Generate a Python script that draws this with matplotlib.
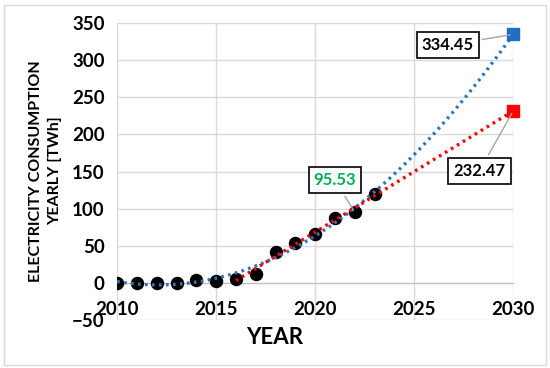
import numpy as np
import matplotlib.pyplot as plt
from matplotlib.patches import Rectangle

# data
years = [2010, 2011, 2012, 2013, 2014, 2015, 2016, 2017, 2018, 2019, 2020, 2021, 2022, 2023]
consumption = [0.2, 0.1, 0.0, 0.5, 4.5, 3.0, 5.5, 12.0, 42.0, 54.0, 66.0, 88.0, 95.53, 120.0]
forecast_year = 2030
blue_label = "334.45"
red_label = "232.47"
red_start = 2016

plt.rcParams['font.family'] = ['Lato', 'DejaVu Sans']

fig = plt.figure(figsize=(5.5, 3.68), dpi=100)
ax = fig.add_axes([0.213, 0.130, 0.72, 0.8075])

x = np.array(years, dtype=float)
y = np.array(consumption)

# polynomial trend (all years) and linear trend (from 2016)
blue_fit = np.polyfit(x - 2010, y, 2)
mask = x >= red_start
red_fit = np.polyfit(x[mask] - 2010, y[mask], 1)

xb = np.linspace(2010, forecast_year, 200)
xr = np.linspace(red_start, forecast_year, 200)
yb = np.polyval(blue_fit, xb - 2010)
yr = np.polyval(red_fit, xr - 2010)
blue_end = np.polyval(blue_fit, forecast_year - 2010)
red_end = np.polyval(red_fit, forecast_year - 2010)

ax.scatter(x, y, s=75, color='black', zorder=3)
ax.plot(xb, yb, color='#2E75B6', lw=2.4, ls=(0, (0.8, 1.3)), zorder=4)
ax.plot(xr, yr, color='#FF0000', lw=2.4, ls=(0, (0.8, 1.3)), zorder=4)
ax.scatter([forecast_year], [blue_end], marker='s', s=75, color='#1F6FC5', zorder=5, clip_on=False)
ax.scatter([forecast_year], [red_end], marker='s', s=75, color='#FF0000', zorder=5, clip_on=False)

ax.set_xlim(2010, 2030)
ax.set_ylim(-50, 350)
ax.set_xticks(range(2010, 2031, 5))
ax.set_yticks(range(-50, 351, 50))
ax.set_yticklabels(['\u221250'] + [str(v) for v in range(0, 351, 50)])
ax.grid(True, color='#D9D9D9', lw=1)
ax.set_axisbelow(True)
for s in ['top', 'right', 'left']:
    ax.spines[s].set_visible(False)
ax.spines['bottom'].set_position(('data', 0))
ax.spines['bottom'].set_color('#BFBFBF')
ax.tick_params(length=0, labelsize=13.5)
ax.tick_params(axis='x', pad=13)
ax.tick_params(axis='y', pad=9)
for lab in ax.get_xticklabels() + ax.get_yticklabels():
    lab.set_fontweight('bold')

fig.text(0.5, 0.082, 'YEAR', ha='center', va='center', fontsize=16, fontweight='bold')
fig.text(0.082, 0.535, 'ELECTRICITY CONSUMPTION\nYEARLY [TWh]', rotation=90,
         ha='center', va='center', fontsize=11.5, fontweight='bold', linespacing=1.45)

box = dict(boxstyle='square,pad=0.3', fc='white', ec='black', lw=1.2)
arrow = dict(arrowstyle='-', color='#A6A6A6', lw=1)
ax.annotate(blue_label, xy=(forecast_year, blue_end), xytext=(2026.7, 320),
            ha='center', va='center', fontsize=12, fontweight='bold', bbox=box,
            arrowprops=arrow, zorder=6)
ax.annotate(red_label, xy=(forecast_year, red_end), xytext=(2028.3, 151),
            ha='center', va='center', fontsize=12, fontweight='bold', bbox=box,
            arrowprops=arrow, zorder=6)
ax.annotate(f"{consumption[years.index(2022)]:.2f}", xy=(2022, consumption[years.index(2022)]),
            xytext=(2021.0, 138), ha='center', va='center', fontsize=12,
            fontweight='bold', color='#00B050', bbox=box, arrowprops=arrow, zorder=6)

fig.patches.append(Rectangle((0.008, 0.008), 0.984, 0.978, transform=fig.transFigure,
                             fill=False, ec='#D9D9D9', lw=1))

fig.savefig('out.png', dpi=100)
